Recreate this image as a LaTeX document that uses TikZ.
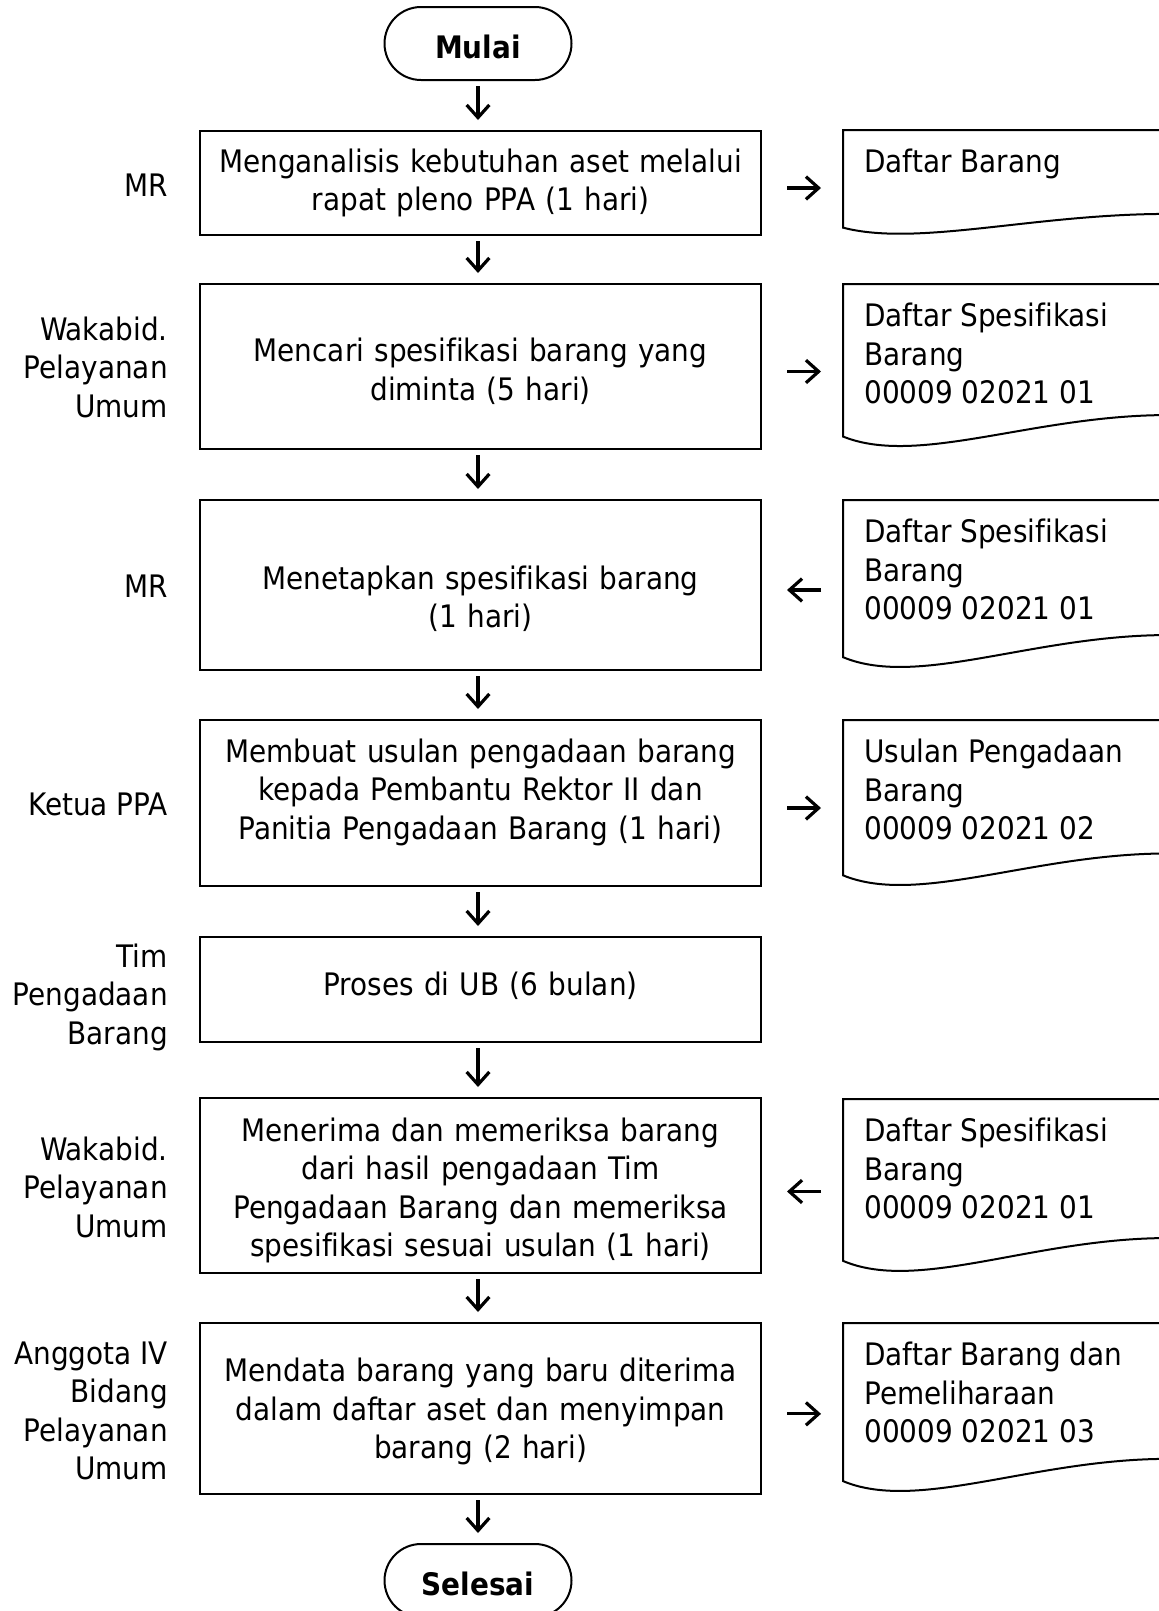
\documentclass[tikz,border=0pt]{standalone}
\usepackage{fontspec}
\setmainfont[FakeStretch=0.9, Ligatures=CommonOff]{DejaVu Sans}
\usetikzlibrary{arrows.meta,shapes.misc}
\newcommand\mfs{\fontsize{23.25pt}{28.875pt}\selectfont}
% #1 name, #2 top, #3 bottom (px), #4 text
\newcommand\docshape[4]{%
  \node[docn, minimum height={(#3-#2)*0.75pt}] (#1) at (843,#2) {};
  \draw[docline] (#1.north east) -- (#1.north west) -- (843,{#3-0.07*(#3-#2)})
     .. controls (920,{#3+0.12*(#3-#2)}) and (1040,{#3-0.22*(#3-#2)}) .. (1180,{#3-0.2*(#3-#2)}) -- cycle;
  \node[doctext] (#1t) at (864,{#2+42.5}) {\parbox[t]{240pt}{\raggedright #4}};%
}
\begin{document}
\begin{tikzpicture}[x=0.75pt,y=-0.75pt,
  box/.style={draw, line width=1.5pt, minimum width=420.75pt, inner sep=0pt},
  btext/.style={text width=405pt, align=center, inner sep=0pt, font=\mfs},
  term/.style={draw, rounded rectangle, line width=1.5pt, minimum width=140.25pt,
               minimum height=54.75pt, inner sep=0pt, font=\mfs\bfseries,
               text height=22pt, text depth=0pt},
  lab/.style={anchor=east, align=right, inner sep=0pt, font=\mfs},
  docn/.style={anchor=north west, minimum width=252.75pt, inner sep=0pt},
  docline/.style={line width=1.5pt},
  doctext/.style={anchor=base west, inner sep=0pt, font=\mfs},
  varr/.style={line width=2.4pt, -{Straight Barb[length=9.5pt,width=17pt]},
               shorten <=3.75pt, shorten >=7.5pt},
  harr/.style={line width=2.4pt, -{Straight Barb[length=9.5pt,width=17pt]}},
  hr/.style={shorten <=18.75pt, shorten >=16.5pt},
  hl/.style={shorten <=16.5pt, shorten >=18.75pt}
]
\useasboundingbox (0,0) rectangle (1158,1611);

% terminals
\node[term] (m1) at (478,43.5) {Mulai};
\node[term] (s1) at (478,1580.5) {Selesai};

% process boxes
\node[box, minimum height=78pt]     (b1) at (480.5,183)    {};
\node[box, minimum height=123.75pt] (b2) at (480.5,366.5)  {};
\node[box, minimum height=127.5pt]  (b3) at (480.5,585)    {};
\node[box, minimum height=124.5pt]  (b4) at (480.5,803)    {};
\node[box, minimum height=78.75pt]  (b5) at (480.5,989.5)  {};
\node[box, minimum height=131.25pt] (b6) at (480.5,1185.5) {};
\node[box, minimum height=128.25pt] (b7) at (480.5,1408.5) {};

\node[btext] (b1t) at (b1.center) {Menganalisis kebutuhan aset melalui\\rapat pleno PPA (1 hari)};
\node[btext] (b2t) at ([yshift=-3.75pt]b2.center) {Mencari spesifikasi barang yang\\diminta (5 hari)};
\node[btext] (b3t) at ([yshift=-10.5pt]b3.center) {Menetapkan spesifikasi barang\\(1 hari)};
\node[btext] (b4t) at ([yshift=8.25pt]b4.center) {Membuat usulan pengadaan barang\\kepada Pembantu Rektor II dan\\Panitia Pengadaan Barang (1 hari)};
\node[btext] (b5t) at ([yshift=3pt]b5.center) {Proses di UB (6 bulan)};
\node[btext] (b6t) at ([yshift=-3.75pt]b6.center) {Menerima dan memeriksa barang\\dari hasil pengadaan Tim\\Pengadaan Barang dan memeriksa\\spesifikasi sesuai usulan (1 hari)};
\node[btext] (b7t) at ([yshift=-2.25pt]b7.center) {Mendata barang yang baru diterima\\dalam daftar aset dan menyimpan\\barang (2 hari)};

% role labels
\node[lab] (l1) at (168,185)    {MR};
\node[lab] (l2) at (168,367)    {Wakabid.\\Pelayanan\\Umum};
\node[lab] (l3) at (168,586)    {MR};
\node[lab] (l4) at (168,804)    {Ketua PPA};
\node[lab] (l5) at (168,997)    {Tim\\Pengadaan\\Barang};
\node[lab] (l6) at (168,1187)   {Wakabid.\\Pelayanan\\Umum};
\node[lab] (l7) at (168,1411)   {Anggota IV\\Bidang\\Pelayanan\\Umum};

% documents
\docshape{d1}{130}{235}{Daftar Barang}
\docshape{d2}{284}{448}{Daftar Spesifikasi\\Barang\\00009 02021 01}
\docshape{d3}{500}{669}{Daftar Spesifikasi\\Barang\\00009 02021 01}
\docshape{d4}{720}{887}{Usulan Pengadaan\\Barang\\00009 02021 02}
\docshape{d6}{1099}{1273}{Daftar Spesifikasi\\Barang\\00009 02021 01}
\docshape{d7}{1323}{1493}{Daftar Barang dan\\Pemeliharaan\\00009 02021 03}

% vertical flow arrows
\draw[varr] (m1.south) -- (m1.south |- b1.north);
\draw[varr] (b1.south -| m1) -- (b2.north -| m1);
\draw[varr] (b2.south -| m1) -- (b3.north -| m1);
\draw[varr] (b3.south -| m1) -- (b4.north -| m1);
\draw[varr] (b4.south -| m1) -- (b5.north -| m1);
\draw[varr] (b5.south -| m1) -- (b6.north -| m1);
\draw[varr] (b6.south -| m1) -- (b7.north -| m1);
\draw[varr] (b7.south -| m1) -- (s1.north);

% horizontal document arrows
\draw[harr,hr] ([yshift=-3.75pt]b1.east) -- ([yshift=-3.75pt]b1.east -| d1.west);
\draw[harr,hr] ([yshift=-3.75pt]b2.east) -- ([yshift=-3.75pt]b2.east -| d2.west);
\draw[harr,hl] ([yshift=-3.75pt]b3.east -| d3.west) -- ([yshift=-3.75pt]b3.east);
\draw[harr,hr] ([yshift=-3.75pt]b4.east) -- ([yshift=-3.75pt]b4.east -| d4.west);
\draw[harr,hl] ([yshift=-4.5pt]b6.east -| d6.west) -- ([yshift=-4.5pt]b6.east);
\draw[harr,hr] ([yshift=-4pt]b7.east) -- ([yshift=-4pt]b7.east -| d7.west);
\end{tikzpicture}
\end{document}
